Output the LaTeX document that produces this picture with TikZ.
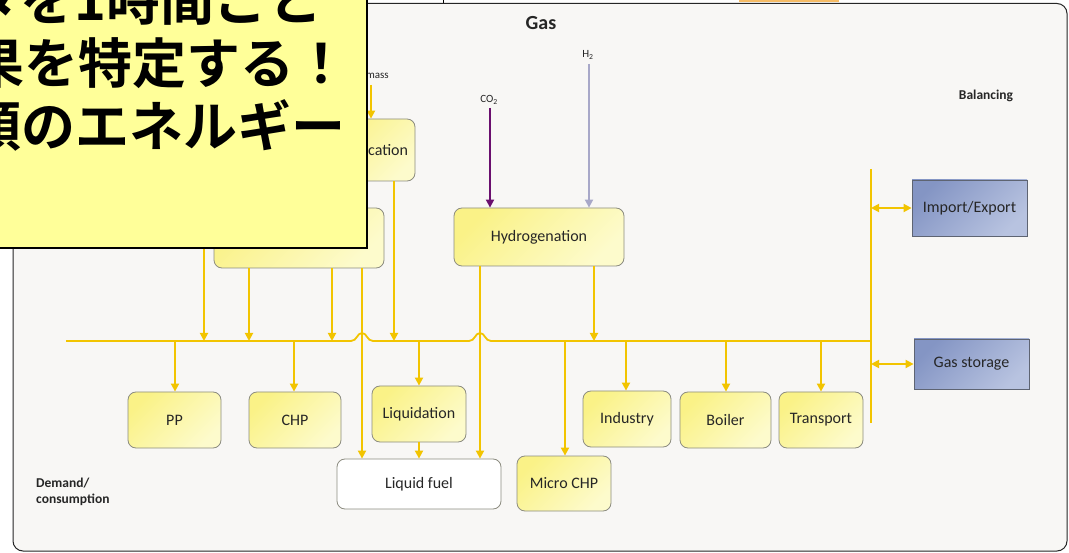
\documentclass[tikz,border=0pt]{standalone}
\usepackage{fontspec}
\setmainfont{Carlito}
\newfontfamily\jpfont{Noto Sans CJK JP}[BoldFont={* Bold}]
\usetikzlibrary{arrows.meta}

\definecolor{gasline}{HTML}{F2C400}
\definecolor{cotwo}{HTML}{6A0F6E}
\definecolor{htwo}{HTML}{A8A8C8}
\definecolor{boxborder}{HTML}{8C8C80}
\definecolor{boxA}{HTML}{FAF287}
\definecolor{boxB}{HTML}{FDFBCC}
\definecolor{blueA}{HTML}{8495C4}
\definecolor{blueB}{HTML}{B8C3E0}
\definecolor{bluebord}{HTML}{5E6472}
\definecolor{panelfill}{HTML}{F8F7F5}
\definecolor{txt}{HTML}{262626}
\definecolor{notefill}{HTML}{FFFF99}
\definecolor{tabfill}{HTML}{F6BC66}

\tikzset{
  gasbox/.style={draw=boxborder, line width=0.8pt, rounded corners=8pt,
    top color=boxA, bottom color=boxB, shading angle=45, text=txt, inner sep=0pt,
    font=\fontsize{16}{19}\selectfont},
  fuelbox/.style={gasbox, top color=white, bottom color=white},
  balbox/.style={draw=bluebord, line width=0.8pt, top color=blueA, bottom color=blueB,
    shading angle=45, text=txt, inner sep=0pt, font=\fontsize{16}{19}\selectfont},
  flow/.style={draw=gasline, line width=1.8pt},
  garrow/.style={flow, -{Triangle[length=8pt,width=8pt]}},
  gdarrow/.style={flow, {Triangle[length=8pt,width=8pt]}-{Triangle[length=8pt,width=8pt]}},
  lbl/.style={text=txt, inner sep=0pt},
  headlbl/.style={lbl, font=\bfseries\fontsize{13.5}{16}\selectfont},
  jpline/.style={inner sep=0pt, anchor=base east,
    font=\jpfont\bfseries\fontsize{54}{58}\selectfont}
}

\begin{document}
\begin{tikzpicture}[x=1pt, y=-1pt]
\useasboundingbox (0,0) rectangle (1069,553);
\fill[white] (0,0) rectangle (1069,553);

% strip of the page above the panel
\fill[tabfill] (739,-2) rectangle (839,2);
\draw[black, line width=0.6pt] (443,0) -- (443,3.5);

% panel
\draw[fill=panelfill, draw=black!85, line width=1pt, rounded corners=10pt]
  (13,3.5) rectangle (1067,551);

% titles
\node[lbl, font=\bfseries\fontsize{20}{24}\selectfont] (title) at (541,23) {Gas};
\node[headlbl] (bal) at (986,96) {Balancing};
\node[headlbl, align=left, anchor=north west] (dem) at (36,478) {Demand/\\consumption};

% conversion boxes
\node[gasbox, minimum width=90pt, minimum height=62pt] (gasif) at (370,150) {Gasification};
\node[gasbox, minimum width=170pt, minimum height=60pt] (conv) at (299,238) {};
\node[gasbox, minimum width=170pt, minimum height=58pt] (hydro) at (539,237) {Hydrogenation};

% demand boxes
\node[gasbox, minimum width=93pt, minimum height=56pt] (pp) at (174.5,420) {PP};
\node[gasbox, minimum width=92pt, minimum height=56pt] (chp) at (295,420) {CHP};
\node[gasbox, minimum width=94pt, minimum height=56pt] (liq) at (419,414) {Liquidation};
\node[fuelbox, minimum width=164pt, minimum height=50pt] (fuel) at (419,484) {Liquid fuel};
\node[gasbox, minimum width=94pt, minimum height=55pt] (mchp) at (564,483.5) {Micro CHP};
\node[gasbox, minimum width=88pt, minimum height=56pt] (ind) at (627,419) {Industry};
\node[gasbox, minimum width=91pt, minimum height=56pt] (boil) at (725.5,420) {Boiler};
\node[gasbox, minimum width=84pt, minimum height=56pt] (trans) at (821,420) {Transport};

% balancing boxes
\node[balbox, minimum width=115pt, minimum height=56pt] (imp) at (969.5,208) {Import/Export};
\node[balbox, minimum width=115pt, minimum height=50pt] (stor) at (971.5,364) {Gas storage};

% inputs
\node[lbl, anchor=east, font=\fontsize{11}{13}\selectfont] (bio) at (389,75) {Biomass};
\node[lbl, font=\fontsize{11}{13}\selectfont] (co2) at (489,100) {CO\textsubscript{2}};
\node[lbl, font=\fontsize{11}{13}\selectfont] (h2) at (588,55) {H\textsubscript{2}};
\coordinate (bioS) at (371,85);
\coordinate (co2S) at (490,108);
\coordinate (h2S) at (589,64);
\draw[garrow] (bioS) -- (gasif.north -| bioS);
\draw[draw=cotwo, line width=1.8pt, -{Triangle[length=8pt,width=8pt]}] (co2S) -- (hydro.north -| co2S);
\draw[draw=htwo, line width=1.8pt, -{Triangle[length=8pt,width=8pt]}] (h2S) -- (hydro.north -| h2S);

% gas bus with bridges over the liquid fuel lines
\coordinate (busL) at (66,341);
\coordinate (busR) at (871,341);
\draw[flow] (busL) -- (351,341) .. controls (357,341) and (357,333) .. (362,333)
  .. controls (367,333) and (367,341) .. (373,341) -- (469,341)
  .. controls (475,341) and (475,333) .. (480,333)
  .. controls (485,333) and (485,341) .. (491,341) -- (busR);

% balancing bar
\coordinate (barT) at (871,169);
\coordinate (barB) at (871,423);
\draw[flow] (barT) -- (barB);
\draw[gdarrow] (barT |- imp.west) -- (imp.west);
\draw[gdarrow] (barT |- stor.west) -- (stor.west);

% supply into the bus
\coordinate (feedA) at (204,230);
\draw[garrow] (feedA) -- (feedA |- busL);
\draw[garrow] (conv.south -| 249,0) -- (249,341);
\draw[garrow] (conv.south -| 332,0) -- (332,341);
\draw[garrow] (gasif.south -| 394,0) -- (394,341);
\draw[garrow] (hydro.south -| 594,0) -- (594,341);

% direct lines to liquid fuel
\draw[garrow] (conv.south -| 362,0) -- (fuel.north -| 362,0);
\draw[garrow] (hydro.south -| 480,0) -- (fuel.north -| 480,0);
\draw[garrow] (liq.south) -- (fuel.north -| liq.south);

% bus to demand
\draw[garrow] (175,341) -- (pp.north -| 175,0);
\draw[garrow] (294,341) -- (chp.north -| 294,0);
\draw[garrow] (419,341) -- (liq.north);
\draw[garrow] (565,341) -- (mchp.north -| 565,0);
\draw[garrow] (626,341) -- (ind.north -| 626,0);
\draw[garrow] (726,341) -- (boil.north -| 726,0);
\draw[garrow] (821,341) -- (trans.north);

% note on top
\draw[fill=notefill, draw=black, line width=2pt] (-10,-10) rectangle (367,248);
\node[jpline] (n1) at (323,21) {ータを1時間ごと};
\node[jpline] (n2) at (349,84) {効果を特定する！};
\node[jpline] (n3) at (346,147) {種類のエネルギー};
\end{tikzpicture}
\end{document}
